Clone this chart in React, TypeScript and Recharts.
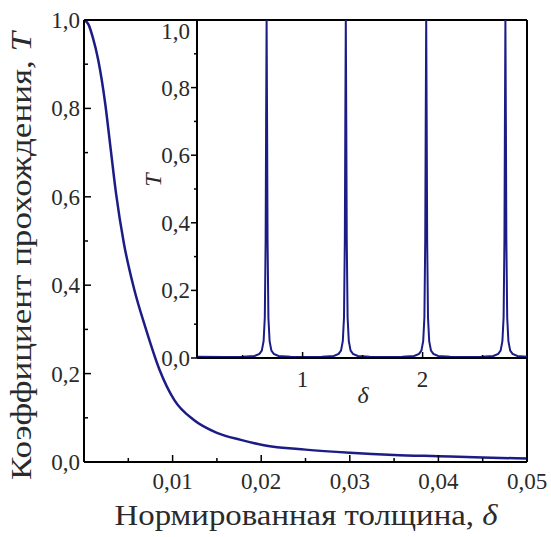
import { LineChart, Line, XAxis, YAxis, ReferenceLine, Label } from 'recharts';

// main curve: transmission vs normalized thickness
const mainDelta = [0, 0.0005, 0.001, 0.0016, 0.0024, 0.003, 0.0036, 0.0045, 0.0056, 0.007, 0.0085, 0.0102, 0.0124, 0.015, 0.0177, 0.0203, 0.025, 0.03, 0.035, 0.04, 0.045, 0.05];
const mainT = [1.0, 0.99, 0.96, 0.91, 0.81, 0.71, 0.61, 0.495, 0.396, 0.3, 0.21, 0.14, 0.095, 0.066, 0.05, 0.038, 0.028, 0.021, 0.016, 0.013, 0.01, 0.008];

// inset: resonance peaks over a wide range of delta
const insetDelta = [
  0.12, 0.35, 0.5,
  0.6, 0.64, 0.66, 0.675, 0.685, 0.692, 0.696, 0.7, 0.704, 0.708, 0.715, 0.725, 0.74, 0.76, 0.8,
  0.9, 1.03, 1.16,
  1.26, 1.3, 1.32, 1.335, 1.345, 1.352, 1.356, 1.36, 1.364, 1.368, 1.375, 1.385, 1.4, 1.42, 1.46,
  1.56, 1.7, 1.83,
  1.93, 1.97, 1.99, 2.005, 2.015, 2.022, 2.026, 2.03, 2.034, 2.038, 2.045, 2.055, 2.07, 2.09, 2.13,
  2.23, 2.36, 2.49,
  2.59, 2.63, 2.65, 2.665, 2.675, 2.682, 2.686, 2.69, 2.694, 2.698, 2.705, 2.715, 2.73, 2.75, 2.79,
  2.87,
];
const insetT = [
  0.004, 0.003, 0.004,
  0.006, 0.012, 0.022, 0.05, 0.12, 0.35, 0.7, 1.0, 0.7, 0.35, 0.12, 0.05, 0.022, 0.012, 0.006,
  0.004, 0.003, 0.004,
  0.006, 0.012, 0.022, 0.05, 0.12, 0.35, 0.7, 1.0, 0.7, 0.35, 0.12, 0.05, 0.022, 0.012, 0.006,
  0.004, 0.003, 0.004,
  0.006, 0.012, 0.022, 0.05, 0.12, 0.35, 0.7, 1.0, 0.7, 0.35, 0.12, 0.05, 0.022, 0.012, 0.006,
  0.004, 0.003, 0.004,
  0.006, 0.012, 0.022, 0.05, 0.12, 0.35, 0.7, 1.0, 0.7, 0.35, 0.12, 0.05, 0.022, 0.012, 0.006,
  0.004,
];

const mainXTicks = [0.005, 0.01, 0.015, 0.02, 0.025, 0.03, 0.035, 0.04, 0.045, 0.05];
const yTicks = [0, 0.1, 0.2, 0.3, 0.4, 0.5, 0.6, 0.7, 0.8, 0.9, 1.0];
const insetXTicks = [0.5, 1, 1.5, 2, 2.5];

const mainData = mainDelta.map((d, i) => ({ delta: d, T: mainT[i] }));
const insetData = insetDelta.map((d, i) => ({ delta: d, T: insetT[i] }));

const FONT = 'Liberation Serif';
const LINE_COLOR = '#1c1c86';
const TEXT_COLOR = '#2a2a2a';

const fmt = (v: number, digits: number) => v.toFixed(digits).replace('.', ',');

const MainXTick = (props: any) => {
  const { x, y, payload } = props;
  const v = payload.value;
  const major = Math.round(v * 1000) % 10 === 0;
  return (
    <g>
      <line x1={x} x2={x} y1={y} y2={y - (major ? 7 : 4)} stroke="#000" strokeWidth={1.5} />
      {major && (
        <text x={x} y={y + 27} textAnchor="middle" fontSize={23} style={{ fontFamily: FONT }} fill={TEXT_COLOR}>
          {fmt(v, 2)}
        </text>
      )}
    </g>
  );
};

const MainYTick = (props: any) => {
  const { x, y, payload } = props;
  const v = payload.value;
  const major = Math.round(v * 10) % 2 === 0;
  return (
    <g>
      <line x1={x} x2={x + (major ? 7 : 4)} y1={y} y2={y} stroke="#000" strokeWidth={1.5} />
      {major && (
        <text x={x - 4} y={y + 8} textAnchor="end" fontSize={23} style={{ fontFamily: FONT }} fill={TEXT_COLOR}>
          {fmt(v, 1)}
        </text>
      )}
    </g>
  );
};

const InsetXTick = (props: any) => {
  const { x, y, payload } = props;
  const v = payload.value;
  const major = Number.isInteger(v);
  return (
    <g>
      <line x1={x} x2={x} y1={y} y2={y - (major ? 6 : 3)} stroke="#000" strokeWidth={1.5} />
      {major && (
        <text x={x} y={y + 29} textAnchor="middle" fontSize={23} style={{ fontFamily: FONT }} fill={TEXT_COLOR}>
          {v}
        </text>
      )}
    </g>
  );
};

const InsetYTick = (props: any) => {
  const { x, y, payload } = props;
  const v = payload.value;
  const major = Math.round(v * 10) % 2 === 0;
  return (
    <g>
      <line x1={x} x2={x - (major ? 6 : 3)} y1={y} y2={y} stroke="#000" strokeWidth={1.5} />
      {major && (
        <text x={x - 7} y={y + 8 + (v === 1 ? 11 : 0)} textAnchor="end" fontSize={23} style={{ fontFamily: FONT }} fill={TEXT_COLOR}>
          {fmt(v, 1)}
        </text>
      )}
    </g>
  );
};

export default function App() {
  return (
    <div style={{ position: 'absolute', left: 0, top: 0, width: 551, height: 537, background: '#fff' }}>
      <div style={{ position: 'absolute', left: 0, top: 0 }}>
        <LineChart width={551} height={537} data={mainData} margin={{ top: 20, right: 24, left: 0, bottom: 0 }}>
          <XAxis
            type="number"
            dataKey="delta"
            domain={[0, 0.05]}
            allowDataOverflow
            ticks={mainXTicks}
            interval={0}
            height={75}
            tickSize={0}
            tickMargin={0}
            tickLine={false}
            tick={MainXTick}
            axisLine={{ stroke: '#000', strokeWidth: 2 }}
          >
            <Label
              content={() => (
                <text x={306} y={525} textAnchor="middle" fontSize={30} style={{ fontFamily: FONT }} fill={TEXT_COLOR} textLength={383} lengthAdjust="spacingAndGlyphs">
                  Нормированная толщина, <tspan fontStyle="italic">δ</tspan>
                </text>
              )}
            />
          </XAxis>
          <YAxis
            type="number"
            domain={[0, 1]}
            allowDataOverflow
            ticks={yTicks}
            interval={0}
            width={84}
            tickSize={0}
            tickMargin={0}
            tickLine={false}
            tick={MainYTick}
            axisLine={{ stroke: '#000', strokeWidth: 2 }}
          >
            <Label
              content={() => (
                <text x={31} y={256} transform="rotate(-90 31 256)" textAnchor="middle" fontSize={29} style={{ fontFamily: FONT }} fill={TEXT_COLOR} textLength={448} lengthAdjust="spacingAndGlyphs">
                  Коэффициент прохождения, <tspan fontStyle="italic">T</tspan>
                </text>
              )}
            />
          </YAxis>
          <ReferenceLine y={1} stroke="#000" strokeWidth={2} />
          <ReferenceLine x={0.05} stroke="#000" strokeWidth={2} />
          <Line type="monotone" dataKey="T" stroke={LINE_COLOR} strokeWidth={2.5} dot={false} isAnimationActive={false} />
        </LineChart>
      </div>
      <div style={{ position: 'absolute', left: 140, top: 0 }}>
        <LineChart width={400} height={420} data={insetData} margin={{ top: 20, right: 13, left: 0, bottom: 32 }}>
          <XAxis
            type="number"
            dataKey="delta"
            domain={[0.12, 2.87]}
            allowDataOverflow
            ticks={insetXTicks}
            interval={0}
            height={30}
            tickSize={0}
            tickMargin={0}
            tickLine={false}
            tick={InsetXTick}
            axisLine={{ stroke: '#000', strokeWidth: 2 }}
          >
            <Label
              content={() => (
                <text x={223} y={403} textAnchor="middle" fontSize={24} style={{ fontFamily: FONT, fontStyle: 'italic' }} fill={TEXT_COLOR}>
                  δ
                </text>
              )}
            />
          </XAxis>
          <YAxis
            type="number"
            domain={[0, 1]}
            allowDataOverflow
            ticks={yTicks}
            interval={0}
            width={57}
            tickSize={0}
            tickMargin={0}
            tickLine={false}
            tick={InsetYTick}
            axisLine={{ stroke: '#000', strokeWidth: 2 }}
          >
            <Label
              content={() => (
                <text x={21} y={180} transform="rotate(-90 21 180)" textAnchor="middle" fontSize={24} style={{ fontFamily: FONT, fontStyle: 'italic' }} fill={TEXT_COLOR}>
                  T
                </text>
              )}
            />
          </YAxis>
          <Line type="linear" dataKey="T" stroke={LINE_COLOR} strokeWidth={2} dot={false} isAnimationActive={false} />
        </LineChart>
      </div>
    </div>
  );
}
